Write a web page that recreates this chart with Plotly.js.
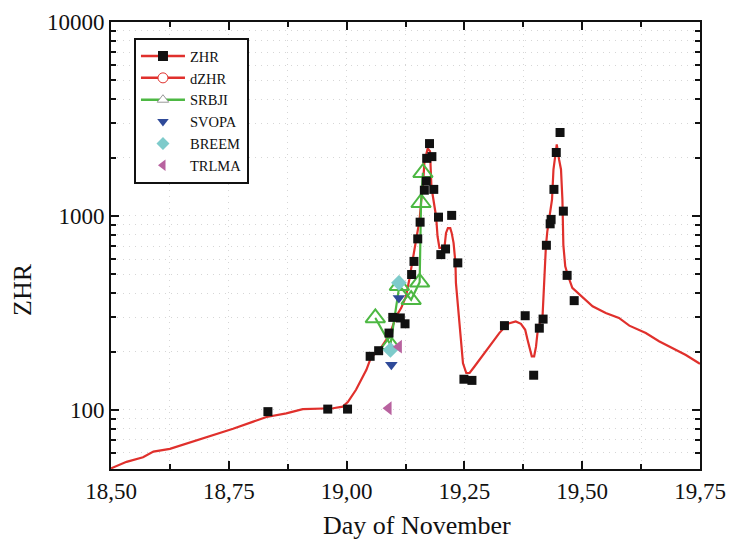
<!DOCTYPE html>
<html>
<head>
<meta charset="utf-8">
<script src="https://cdn.plot.ly/plotly-3.0.1.min.js"></script>
<style>html,body{margin:0;padding:0;background:#fff;}#chart{width:731px;height:542px;}</style>
</head>
<body>
<div id="chart"></div>
<script>
// ZHR observations (black squares)
const zhrX = [18.833, 18.960, 19.002, 19.050, 19.068, 19.090, 19.098, 19.114, 19.124, 19.138, 19.143, 19.151, 19.156, 19.165, 19.169, 19.170, 19.176, 19.181, 19.185, 19.195, 19.200, 19.210, 19.223, 19.236, 19.249, 19.266, 19.335, 19.379, 19.397, 19.409, 19.417, 19.424, 19.432, 19.434, 19.440, 19.445, 19.453, 19.460, 19.468, 19.483];
const zhrY = [98, 101, 101, 189, 202, 249, 300, 298, 278, 499, 583, 762, 929, 1358, 1513, 1982, 2361, 2023, 1371, 986, 632, 676, 1007, 573, 144, 142, 272, 306, 151, 264, 294, 706, 911, 960, 1371, 2124, 2694, 1059, 494, 366];

// dZHR curve (red line)
const dzhrX = [18.500, 18.533, 18.568, 18.590, 18.625, 18.660, 18.710, 18.759, 18.802, 18.830, 18.872, 18.907, 18.971, 18.992, 19.003, 19.020, 19.042, 19.052, 19.070, 19.084, 19.095, 19.105, 19.116, 19.126, 19.133, 19.139, 19.144, 19.148, 19.155, 19.158, 19.162, 19.165, 19.169, 19.172, 19.177, 19.179, 19.180, 19.183, 19.186, 19.190, 19.193, 19.197, 19.200, 19.208, 19.211, 19.215, 19.220, 19.223, 19.227, 19.231, 19.232, 19.238, 19.243, 19.247, 19.254, 19.261, 19.271, 19.285, 19.303, 19.324, 19.342, 19.359, 19.370, 19.379, 19.384, 19.388, 19.393, 19.398, 19.402, 19.405, 19.410, 19.416, 19.419, 19.423, 19.426, 19.431, 19.436, 19.439, 19.443, 19.446, 19.451, 19.455, 19.458, 19.460, 19.464, 19.469, 19.479, 19.494, 19.508, 19.522, 19.550, 19.578, 19.600, 19.635, 19.663, 19.691, 19.720, 19.748, 19.750];
const dzhrY = [50, 54, 57, 61, 63, 67, 73, 80, 87, 92, 96, 101, 102, 104, 110, 127, 161, 187, 204, 230, 259, 303, 336, 385, 469, 575, 670, 756, 960, 1175, 1424, 1877, 2124, 2226, 2157, 1736, 1424, 1267, 1121, 991, 786, 684, 684, 699, 818, 866, 866, 818, 727, 573, 452, 303, 221, 174, 155, 155, 167, 185, 212, 249, 278, 286, 278, 259, 230, 208, 189, 189, 212, 249, 280, 309, 452, 699, 834, 991, 1216, 1736, 2124, 2340, 1949, 1736, 1216, 710, 550, 499, 426, 395, 370, 342, 316, 298, 272, 249, 226, 208, 192, 174, 173];

// SRBJI (green open triangles with line)
const srbjiX = [19.061, 19.093, 19.112, 19.137, 19.155, 19.158, 19.162];
const srbjiY = [298, 217, 437, 370, 455, 1170, 1671];

// SVOPA (blue down triangles)
const svopaX = [19.095, 19.111];
const svopaY = [171, 378];

// BREEM (cyan diamonds)
const breemX = [19.093, 19.111];
const breemY = [204, 452];

// TRLMA (magenta left triangles)
const trlmaX = [19.089, 19.111];
const trlmaY = [102, 212];

// Tick labels
const xTickVals = [18.50, 18.75, 19.00, 19.25, 19.50, 19.75];
const xTickText = ['18,50', '18,75', '19,00', '19,25', '19,50', '19,75'];
const yTickVals = [100, 1000, 10000];
const yTickText = ['100', '1000', '10000'];

const RED = '#e0302c', GREEN = '#4db843', BLUE = '#2f4a99', CYAN = '#7ecbcb', MAG = '#b8629f';
const FONT = "'Liberation Serif', serif";

const traces = [
  {x: dzhrX, y: dzhrY, mode: 'lines', line: {color: RED, width: 2.2}, showlegend: false, hoverinfo: 'skip'},
  {x: srbjiX, y: srbjiY, mode: 'lines+markers', line: {color: GREEN, width: 2.2},
   marker: {symbol: 'triangle-up-open', size: 17, color: GREEN, line: {width: 2, color: GREEN}}, showlegend: false},
  {x: zhrX, y: zhrY, mode: 'markers', marker: {symbol: 'square', size: 9, color: '#111'}, showlegend: false},
  {x: svopaX, y: svopaY, mode: 'markers', marker: {symbol: 'triangle-down', size: 11, color: BLUE}, showlegend: false},
  {x: breemX, y: breemY, mode: 'markers', marker: {symbol: 'diamond', size: 12, color: CYAN}, showlegend: false},
  {x: trlmaX, y: trlmaY, mode: 'markers', marker: {symbol: 'triangle-left', size: 12, color: MAG}, showlegend: false},
  // legend entries
  {x: [null], y: [null], name: 'ZHR', mode: 'lines+markers', line: {color: RED, width: 2.5}, marker: {symbol: 'square', size: 10, color: '#111'}},
  {x: [null], y: [null], name: 'dZHR', mode: 'lines+markers', line: {color: RED, width: 2.5}, marker: {symbol: 'circle', size: 10, color: '#fff', line: {color: RED, width: 1}}},
  {x: [null], y: [null], name: 'SRBJI', mode: 'lines+markers', line: {color: GREEN, width: 2.5}, marker: {symbol: 'triangle-up', size: 10, color: '#fff', line: {color: '#999', width: 1}}},
  {x: [null], y: [null], name: 'SVOPA', mode: 'markers', marker: {symbol: 'triangle-down', size: 10, color: BLUE}},
  {x: [null], y: [null], name: 'BREEM', mode: 'markers', marker: {symbol: 'diamond', size: 10, color: CYAN}},
  {x: [null], y: [null], name: 'TRLMA', mode: 'markers', marker: {symbol: 'triangle-left', size: 10, color: MAG}}
];

const gridCommon = {gridcolor: '#d6d6d6', griddash: '1px,5px', gridwidth: 1};

const layout = {
  width: 731, height: 542,
  margin: {l: 111, r: 31, t: 22, b: 73, pad: 0},
  paper_bgcolor: '#fff', plot_bgcolor: '#fff',
  font: {family: FONT, color: '#111', size: 22},
  showlegend: true,
  xaxis: {
    type: 'linear', range: [18.5, 19.75],
    tickmode: 'array', tickvals: xTickVals, ticktext: xTickText,
    ticks: 'inside', ticklen: 8, tickwidth: 2, tickcolor: '#111',
    showline: true, linewidth: 2, linecolor: '#111', mirror: 'ticks',
    showgrid: true, ...gridCommon, zeroline: false,
    tickfont: {family: FONT, size: 23, color: '#111'},
    minor: {tickmode: 'linear', tick0: 18.5, dtick: 0.125, ticks: 'inside', ticklen: 5, tickwidth: 2, tickcolor: '#111', showgrid: true, ...gridCommon}
  },
  yaxis: {
    type: 'log', range: [Math.log10(49.6), 4],
    tickmode: 'array', tickvals: yTickVals, ticktext: yTickText,
    ticks: 'inside', ticklen: 8, tickwidth: 2, tickcolor: '#111',
    showline: true, linewidth: 2, linecolor: '#111', mirror: 'ticks',
    showgrid: true, ...gridCommon, zeroline: false,
    tickfont: {family: FONT, size: 23, color: '#111'},
    minor: {dtick: 'D1', ticks: 'inside', ticklen: 5, tickwidth: 2, tickcolor: '#111', showgrid: true, ...gridCommon}
  },
  legend: {
    x: 0.039, y: 0.964, xanchor: 'left', yanchor: 'top',
    bgcolor: '#fff', bordercolor: '#111', borderwidth: 2,
    font: {family: FONT, size: 14.5, color: '#111'},
    itemwidth: 44, tracegroupgap: 0
  },
  annotations: [
    {text: 'Day of November', xref: 'paper', yref: 'paper', x: (417 - 111) / 589, y: -(525 - 469) / 447,
     xanchor: 'center', yanchor: 'middle', showarrow: false, font: {family: FONT, size: 26, color: '#111'}},
    {text: 'ZHR', xref: 'paper', yref: 'paper', x: -(111 - 22) / 589, y: (469 - 290) / 447,
     xanchor: 'center', yanchor: 'middle', textangle: -90, showarrow: false, font: {family: FONT, size: 26, color: '#111'}}
  ]
};

Plotly.newPlot('chart', traces, layout, {displayModeBar: false, staticPlot: true});
</script>
</body>
</html>
